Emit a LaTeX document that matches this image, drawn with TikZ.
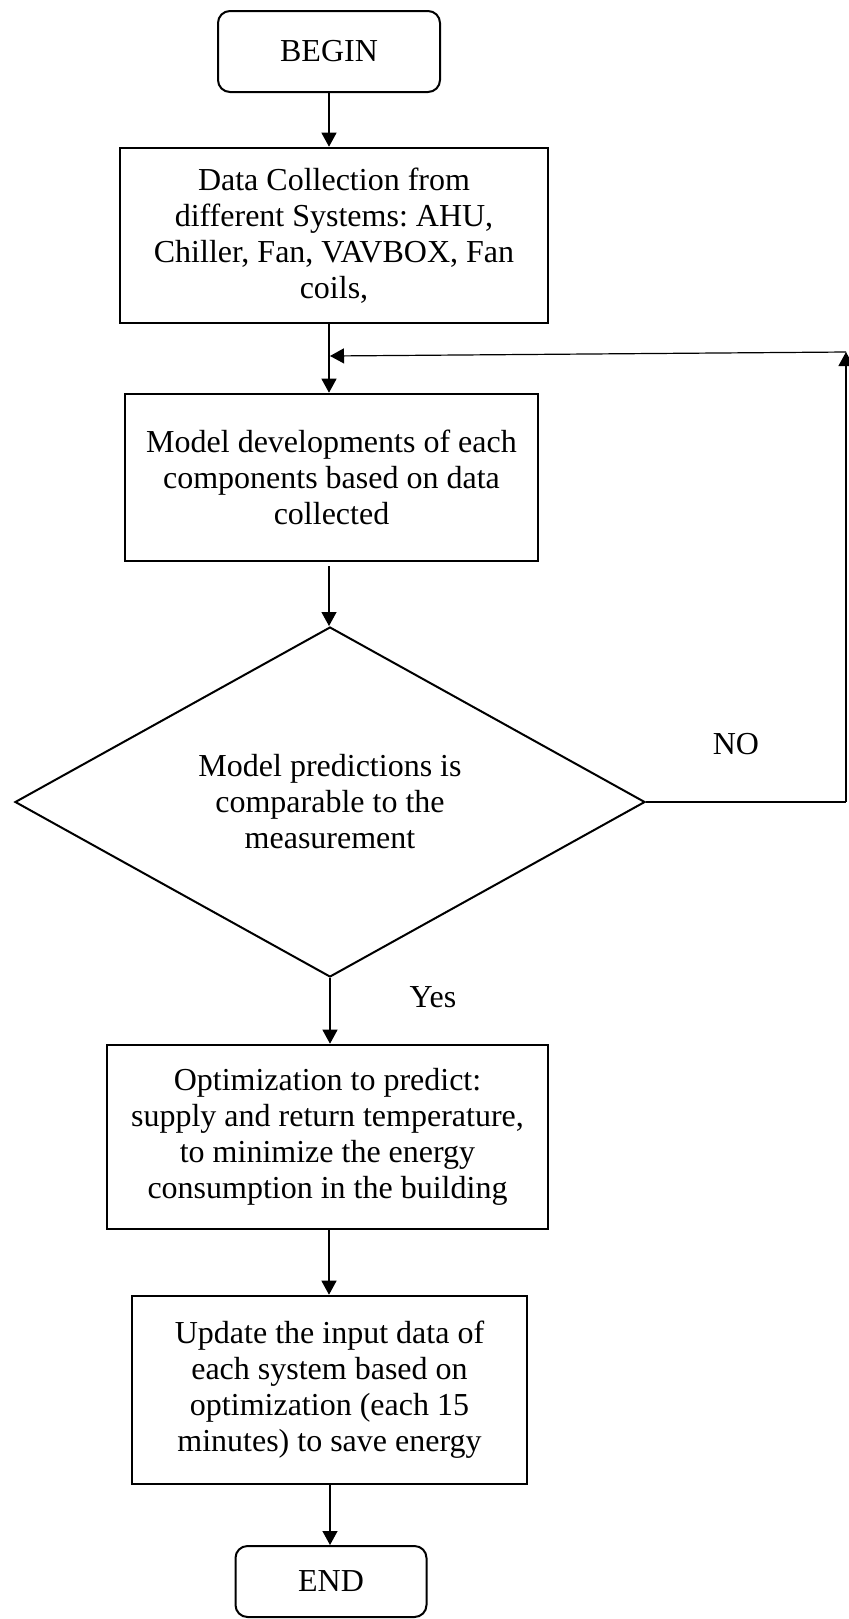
\documentclass[tikz,border=0pt]{standalone}
\usepackage{fontspec}
\setmainfont{Liberation Serif}
\usetikzlibrary{shapes.geometric,arrows.meta}
\frenchspacing
\begin{document}
\begin{tikzpicture}[x=0.5pt,y=-0.5pt,
  every node/.style={font=\fontsize{16pt}{18pt}\selectfont},
  term/.style={draw,line width=1pt,rounded corners=6pt,align=center,inner sep=0pt},
  proc/.style={draw,line width=1.3pt,align=center,inner sep=0pt},
  decis/.style={draw,line width=1pt,shape=diamond,aspect=1.8,inner sep=0pt,align=center},
  arr/.style={line width=0.6pt,-{Triangle[length=7pt,width=7.5pt]}},
  lbl/.style={inner sep=0pt}]
\useasboundingbox (0,0) rectangle (848,1619);
\node[term,minimum width=111pt,minimum height=40.5pt] (begin) at (329,51.5) {BEGIN};
\node[proc,minimum width=214pt,minimum height=87.5pt] (data) at (334,235.5)
  {Data Collection from\\different Systems: AHU,\\Chiller, Fan, VAVBOX, Fan\\coils,};
\node[proc,minimum width=206.5pt,minimum height=83.5pt] (model) at (331.5,477.5)
  {Model developments of each\\components based on data\\collected};
\node[decis,minimum width=315pt,minimum height=175pt] (dec) at (330,802)
  {Model predictions is\\comparable to the\\measurement};
\node[proc,minimum width=220.5pt,minimum height=92pt] (opt) at (327.5,1137)
  {Optimization to predict:\\supply and return temperature,\\to minimize the energy\\consumption in the building};
\node[proc,minimum width=197.5pt,minimum height=94pt] (upd) at (329.5,1390)
  {Update the input data of\\each system based on\\optimization (each 15\\minutes) to save energy};
\node[term,minimum width=95.5pt,minimum height=35.5pt] (end) at (331,1581.5) {END};
\node[lbl] (no) at (736,744) {NO};
\node[lbl] (yes) at (433,997) {Yes};
\coordinate (rc) at (846,352);
\coordinate (jn) at (330,356);
\coordinate (dr) at (846,802);
\coordinate (ds) at (329,323);
\coordinate (ms) at (329,566);
\coordinate (os) at (329,1229);
\coordinate (us) at (330,1484);
\draw[arr] (begin.south) -- (begin.south |- data.north);
\draw[arr] (ds) -- (ds |- model.north);
\draw[line width=0.6pt] (dec.east) -- (dr);
\draw[arr] (dr) -- (rc);
\draw[arr] (rc) -- (jn);
\draw[arr] (ms) -- (ms |- dec.north);
\draw[arr] (dec.south) -- (dec.south |- opt.north);
\draw[arr] (os) -- (os |- upd.north);
\draw[arr] (us) -- (us |- end.north);
\end{tikzpicture}
\end{document}
